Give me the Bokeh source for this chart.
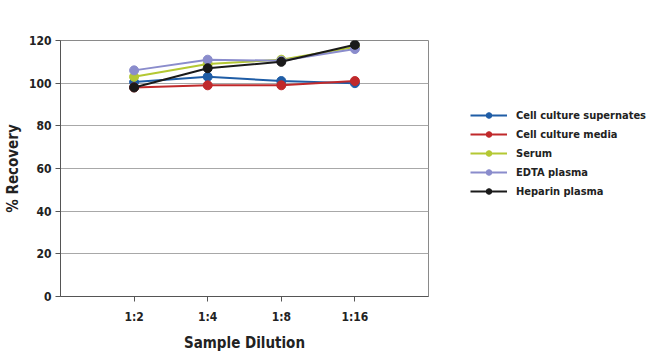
from bokeh.plotting import figure
from bokeh.models import FixedTicker, Legend, LegendItem, Range1d
from bokeh.embed import file_html
from bokeh.resources import INLINE

dilutions = ["1:2", "1:4", "1:8", "1:16"]
x_pos = [1, 2, 3, 4]
cell_sup = [100.5, 103, 101, 100]
cell_media = [98, 99, 99, 101]
serum = [103, 109, 111, 117]
edta = [106, 111, 110.5, 116]
heparin = [98, 107, 110, 118]
y_ticks = [0, 20, 40, 60, 80, 100, 120]

series = [
    ("Cell culture supernates", cell_sup, "#1f5da6"),
    ("Cell culture media", cell_media, "#c0292b"),
    ("Serum", serum, "#b4c833"),
    ("EDTA plasma", edta, "#8a8ccc"),
    ("Heparin plasma", heparin, "#1a1a1a"),
]

FONT = "DejaVu Sans Condensed"

p = figure(frame_width=368, frame_height=256, output_backend="svg", toolbar_location=None,
           x_range=Range1d(0, 5), y_range=Range1d(0, 120),
           min_border_left=60, min_border_right=222, min_border_top=40, min_border_bottom=60)

p.outline_line_color = "#8a8a8a"
p.outline_line_width = 1
p.xgrid.visible = False
p.ygrid.grid_line_color = "#a8a8a8"
p.ygrid.grid_line_width = 1

p.yaxis.ticker = FixedTicker(ticks=y_ticks)
p.xaxis.ticker = FixedTicker(ticks=x_pos)
p.xaxis.major_label_overrides = {x: lab for x, lab in zip(x_pos, dilutions)}
for ax in (p.xaxis[0], p.yaxis[0]):
    ax.axis_line_color = "#555555"
    ax.major_tick_line_color = "#555555"
    ax.major_tick_out = 5
    ax.major_tick_in = 0
    ax.minor_tick_line_color = None
    ax.major_label_text_font = FONT
    ax.major_label_text_font_style = "bold"
    ax.major_label_text_font_size = "12px"
    ax.major_label_text_color = "#222222"
    ax.axis_label_text_font = FONT
    ax.axis_label_text_font_style = "bold"
    ax.axis_label_text_font_size = "15px"
    ax.axis_label_text_color = "#222222"
p.xaxis.axis_label = "Sample Dilution"
p.yaxis.axis_label = "% Recovery"
p.xaxis.major_label_standoff = 8
p.xaxis.axis_label_standoff = 7
p.yaxis.major_label_standoff = 4
p.yaxis.axis_label_standoff = 4

items = []
for name, vals, col in series:
    l = p.line(x_pos, vals, line_color=col, line_width=2)
    s = p.scatter(x_pos, vals, size=9, fill_color=col, line_color=col)
    items.append(LegendItem(label=name, renderers=[l, s]))

legend = Legend(items=items, location=(42, 98), border_line_color=None,
                background_fill_alpha=0, label_text_font=FONT,
                label_text_font_style="bold", label_text_font_size="11px",
                label_text_color="#222222", glyph_width=37, glyph_height=14,
                spacing=5, label_standoff=9, padding=3, margin=0)
p.add_layout(legend, "right")

open("out.html", "w").write(file_html(p, INLINE))
